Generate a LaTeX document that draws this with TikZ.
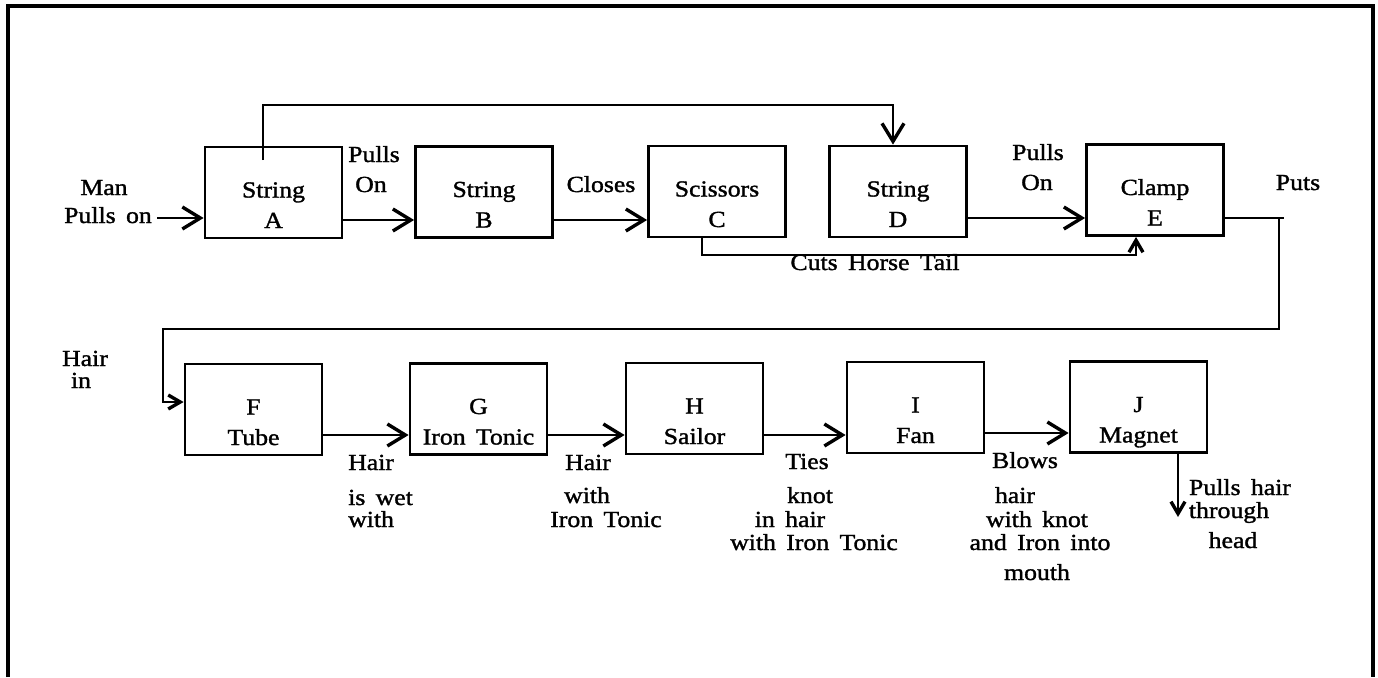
\documentclass[tikz,border=0pt]{standalone}
\usepackage{fontspec}
\setmainfont{Liberation Serif}[FakeStretch=1.12,WordSpace=1.6,FakeBold=1.4]
\usetikzlibrary{arrows.meta,calc}
\newcommand\boxtop{\rule{0pt}{46.5pt}}
\newcommand\boxbot{\rule[-6pt]{0pt}{6pt}}
\begin{document}
\begin{tikzpicture}[x=1pt,y=-1pt,
  font=\fontsize{23}{30.5}\selectfont,
  box/.style={draw, line width=2.8pt, minimum width=137pt, minimum height=91pt, inner sep=0pt, align=center},
  lbl/.style={inner sep=0pt, anchor=base},
  lbll/.style={inner sep=0pt, anchor=base west},
  conn/.style={line width=2.8pt, line join=miter},
  arr/.style={conn, -{Straight Barb[length=18pt,width=22pt,line width=3.4pt]}},
  sarr/.style={conn, -{Straight Barb[length=12pt,width=14pt,line width=3.4pt]}}]
\useasboundingbox (0,0) rectangle (1378,677);
% outer frame
\draw[line width=3.2pt] (8,677) -- (8,6) -- (1373,6) -- (1373,677);
% boxes
\node[box] (A) at (273.5,192.5) {\boxtop String\\A\boxbot};
\node[box] (B) at (484,192) {\boxtop String\\B\boxbot};
\node[box] (C) at (717,191.5) {\boxtop Scissors\\C\boxbot};
\node[box] (D) at (898,191.5) {\boxtop String\\D\boxbot};
\node[box] (E) at (1155,190) {\boxtop Clamp\\E\boxbot};
\node[box] (F) at (253.5,409.5) {\boxtop F\\Tube\boxbot};
\node[box] (G) at (478.5,409) {\boxtop G\\Iron Tonic\boxbot};
\node[box] (H) at (694.5,408.5) {\boxtop H\\Sailor\boxbot};
\node[box] (I) at (915.5,407.5) {\boxtop I\\Fan\boxbot};
\node[box] (J) at (1138.5,407) {\boxtop J\\Magnet\boxbot};
% free ends
\coordinate (man) at (157,218);
\coordinate (Aup) at (263,160);
\coordinate (jend) at (1178,517);
\coordinate (puts) at (1284,218);
% connectors
\draw[arr] (man) -- (A.west |- man);
\draw[arr] (A.east |- 0,220) -- (B.west |- 0,220);
\draw[arr] (B.east |- 0,220) -- (C.west |- 0,220);
\draw[arr] (D.east |- 0,218) -- (E.west |- 0,218);
\draw[arr] (Aup) |- (893,105) -- (D.north -| 893,0);
\draw[sarr] (C.south -| 702,0) |- (1136,255) -- (E.south -| 1136,0);
\draw[conn] (E.east |- puts) -- (puts);
\draw[sarr] (1279,218) -- (1279,329) -| (163,402) -- (F.west |- 0,402);
\draw[arr] (F.east |- 0,435) -- (G.west |- 0,435);
\draw[arr] (G.east |- 0,435) -- (H.west |- 0,435);
\draw[arr] (H.east |- 0,435) -- (I.west |- 0,435);
\draw[arr] (I.east |- 0,433) -- (J.west |- 0,433);
\draw[sarr] (J.south -| jend) -- (jend);
% labels
\node[lbl] (l1a) at (104,195) {Man};
\node[lbl] (l1b) at (108,223) {Pulls on};
\node[lbl] (l2a) at (374,162) {Pulls};
\node[lbl] (l2b) at (371,192) {On};
\node[lbl] (l3) at (601,192) {Closes};
\node[lbl] (l4a) at (1038,160) {Pulls};
\node[lbl] (l4b) at (1037,190) {On};
\node[lbl] (l5) at (1298,190) {Puts};
\node[lbl] (l6) at (875,270) {Cuts Horse Tail};
\node[lbl] (l7a) at (85,366) {Hair};
\node[lbl] (l7b) at (81,388) {in};
\node[lbll] (l8a) at (348,470) {Hair};
\node[lbll] (l8b) at (348,505) {is wet};
\node[lbll] (l8c) at (348,527) {with};
\node[lbl] (l9a) at (588,470) {Hair};
\node[lbl] (l9b) at (587,503) {with};
\node[lbl] (l9c) at (606,527) {Iron Tonic};
\node[lbl] (l10a) at (807,469) {Ties};
\node[lbl] (l10b) at (810,503) {knot};
\node[lbl] (l10c) at (790,527) {in hair};
\node[lbl] (l10d) at (814,550) {with Iron Tonic};
\node[lbl] (l11a) at (1025,468) {Blows};
\node[lbl] (l11b) at (1015,503) {hair};
\node[lbl] (l11c) at (1037,527) {with knot};
\node[lbl] (l11d) at (1040,550) {and Iron into};
\node[lbl] (l11e) at (1037,580) {mouth};
\node[lbl] (l12a) at (1240,495) {Pulls hair};
\node[lbl] (l12b) at (1229,518) {through};
\node[lbl] (l12c) at (1233,548) {head};
\end{tikzpicture}
\end{document}
